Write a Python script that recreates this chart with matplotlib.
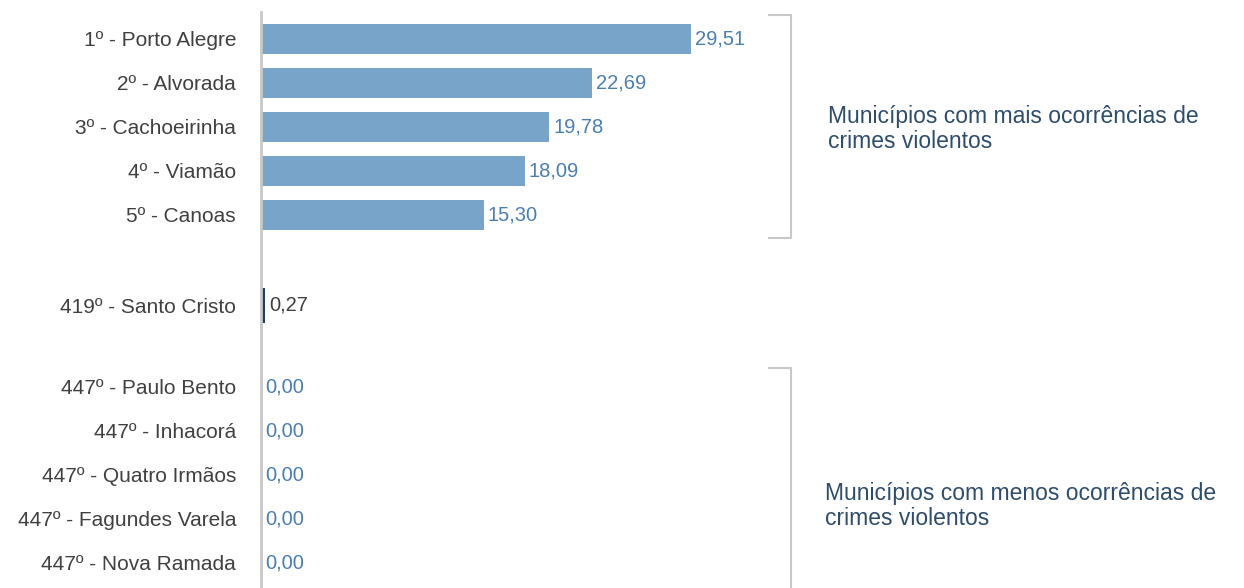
import matplotlib
matplotlib.use("Agg")
import matplotlib.pyplot as plt

# data
top_names = ["1º - Porto Alegre", "2º - Alvorada", "3º - Cachoeirinha",
             "4º - Viamão", "5º - Canoas"]
top_values = [29.51, 22.69, 19.78, 18.09, 15.30]

mid_name = "419º - Santo Cristo"
mid_value = 0.27

bottom_names = ["447º - Paulo Bento", "447º - Inhacorá", "447º - Quatro Irmãos",
                "447º - Fagundes Varela", "447º - Nova Ramada"]
bottom_values = [0.00, 0.00, 0.00, 0.00, 0.00]

note_top = "Municípios com mais ocorrências de\ncrimes violentos"
note_bottom = "Municípios com menos ocorrências de\ncrimes violentos"

plt.rcParams['font.family'] = ['Liberation Sans', 'DejaVu Sans']

BAR_COLOR = '#77a4c8'
MID_COLOR = '#1f3d5c'
VAL_COLOR = '#4a7fb0'
TXT_COLOR = '#404040'
NOTE_COLOR = '#2e4d6b'
LINE_COLOR = '#c8c8c8'

fig = plt.figure(figsize=(12.44, 5.88), dpi=100)
ax = fig.add_axes([261 / 1244, 0, 1 - 261 / 1244, 1 - 12 / 588])

px_x = 14.57   # pixels per unit
px_y = 44.0
ax.set_xlim(0, 983 / px_x)
ax.set_ylim((588 - 39) / px_y, (12 - 39) / px_y)

y_top = [0, 1, 2, 3, 4]
y_mid = 6.05
y_bot = [7.9, 8.9, 9.9, 10.9, 11.9]

ax.barh(y_top, top_values, height=0.68, color=BAR_COLOR)
ax.barh([y_mid], [mid_value], height=0.8, color=MID_COLOR)
ax.barh(y_bot, bottom_values, height=0.68, color=BAR_COLOR)

off = 4 / px_x
for y, v in zip(y_top, top_values):
    ax.text(v + off, y, f"{v:.2f}".replace('.', ','), va='center', ha='left',
            fontsize=14.5, color=VAL_COLOR)
ax.text(mid_value + off, y_mid, f"{mid_value:.2f}".replace('.', ','),
        va='center', ha='left', fontsize=14.5, color=TXT_COLOR)
for y, v in zip(y_bot, bottom_values):
    ax.text(v + off, y, f"{v:.2f}".replace('.', ','), va='center', ha='left',
            fontsize=14.5, color=VAL_COLOR)

ax.set_yticks(y_top + [y_mid] + y_bot)
ax.set_yticklabels(top_names + [mid_name] + bottom_names, fontsize=15, color=TXT_COLOR)
ax.tick_params(axis='y', length=0, pad=18)
ax.set_xticks([])

for s in ['top', 'right', 'bottom']:
    ax.spines[s].set_visible(False)
ax.spines['left'].set_color(LINE_COLOR)
ax.spines['left'].set_linewidth(2)

# brackets
bx0 = (769 - 261) / px_x
bx1 = (791 - 261) / px_x
yb_top0, yb_top1 = (15 - 39) / px_y, (238 - 39) / px_y
ax.plot([bx0, bx1, bx1, bx0], [yb_top0, yb_top0, yb_top1, yb_top1],
        color=LINE_COLOR, lw=1.5, clip_on=False)
yb_bot0 = (368 - 39) / px_y
yb_bot1 = (600 - 39) / px_y
ax.plot([bx0, bx1, bx1], [yb_bot0, yb_bot0, yb_bot1],
        color=LINE_COLOR, lw=1.5, clip_on=False)

ax.text((828 - 261) / px_x, (129 - 39) / px_y, note_top, va='center', ha='left',
        fontsize=16.5, color=NOTE_COLOR, linespacing=1.08)
ax.text((825 - 261) / px_x, (506 - 39) / px_y, note_bottom, va='center', ha='left',
        fontsize=16.5, color=NOTE_COLOR, linespacing=1.08)

plt.savefig('out.png', dpi=100)
